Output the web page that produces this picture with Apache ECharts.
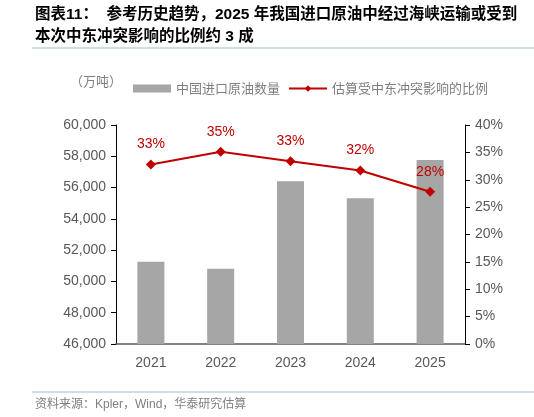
<!DOCTYPE html>
<html><head><meta charset="utf-8">
<script src="https://cdn.jsdelivr.net/npm/echarts@6/dist/echarts.min.js"></script>
<style>html,body{margin:0;padding:0;background:#fff}#c{width:534px;height:417px}</style>
</head><body><div id="c"></div>
<script>
const categories = ['2021','2022','2023','2024','2025'];
const importVolume = [51260, 50810, 56400, 55310, 57760];
const shareAffected = [32.8, 35.1, 33.4, 31.7, 27.8];
const shareLabels = ['33%','35%','33%','32%','28%'];
const leftTicks = {min:46000, max:60000, interval:2000};
const rightTicks = {min:0, max:40, interval:5};

const chart = echarts.init(document.getElementById('c'));
const tickFont = {color:'#595959', fontSize:14, fontFamily:'Liberation Sans, Arial, sans-serif'};
chart.setOption({
  animation:false,
  textStyle:{fontFamily:'Liberation Sans, Noto Sans CJK SC, sans-serif'},
  graphic:[
    {type:'text', left:35, top:7, style:{text:'图表11：  参考历史趋势，2025 年我国进口原油中经过海峡运输或受到', fontSize:15.5, fontWeight:'bold', fill:'#000', fontFamily:'Liberation Sans, Noto Sans CJK SC, sans-serif'}},
    {type:'text', left:35, top:29, style:{text:'本次中东冲突影响的比例约 3 成', fontSize:15.5, fontWeight:'bold', fill:'#000', fontFamily:'Liberation Sans, Noto Sans CJK SC, sans-serif'}},
    {type:'line', shape:{x1:32,y1:48,x2:534,y2:48}, style:{stroke:'#c5d0de', lineWidth:1.5}},
    {type:'text', left:70, top:75, style:{text:'（万吨）', fontSize:13, fill:'#7f7f7f', fontFamily:'Noto Sans CJK SC, sans-serif'}},
    {type:'line', shape:{x1:32,y1:392,x2:534,y2:392}, style:{stroke:'#c5d0de', lineWidth:1.5}},
    {type:'text', left:35, top:399, style:{text:'资料来源：Kpler，Wind，华泰研究估算', fontSize:12, fill:'#7f7f7f', fontFamily:'Liberation Sans, Noto Sans CJK SC, sans-serif'}}
  ],
  legend:{
    top:77, left:128, itemGap:8, itemWidth:38, itemHeight:8,
    textStyle:{color:'#7f7f7f', fontSize:13, fontFamily:'Noto Sans CJK SC, sans-serif'},
    data:[{name:'中国进口原油数量', icon:'rect'}, {name:'估算受中东冲突影响的比例'}]
  },
  grid:{left:116, right:69, top:125, bottom:73},
  xAxis:{
    type:'category', data:categories,
    axisLine:{lineStyle:{color:'#595959', width:1.5}},
    axisTick:{show:false},
    axisLabel:Object.assign({margin:12}, tickFont)
  },
  yAxis:[
    {type:'value', min:leftTicks.min, max:leftTicks.max, interval:leftTicks.interval,
     axisLine:{show:true, lineStyle:{color:'#000', width:1}},
     axisTick:{show:true, length:5, lineStyle:{color:'#000'}},
     splitLine:{show:false},
     axisLabel:Object.assign({margin:10, formatter:v=>v.toLocaleString('en-US')}, tickFont)},
    {type:'value', min:rightTicks.min, max:rightTicks.max, interval:rightTicks.interval, position:'right',
     axisLine:{show:true, lineStyle:{color:'#000', width:1}},
     axisTick:{show:true, length:5, lineStyle:{color:'#000'}},
     splitLine:{show:false},
     axisLabel:Object.assign({margin:10, formatter:'{value}%'}, tickFont)}
  ],
  series:[
    {name:'中国进口原油数量', type:'bar', data:importVolume, barWidth:27,
     itemStyle:{color:'#a6a6a6'}},
    {name:'估算受中东冲突影响的比例', type:'line', yAxisIndex:1, data:shareAffected,
     symbol:'diamond', symbolSize:10,
     lineStyle:{color:'#c00000', width:2}, itemStyle:{color:'#c00000'},
     label:{show:true, position:'top', distance:8, color:'#c00000', fontSize:14,
            fontFamily:'Liberation Sans, Arial, sans-serif',
            formatter:p=>shareLabels[p.dataIndex]}}
  ]
});
</script></body></html>
